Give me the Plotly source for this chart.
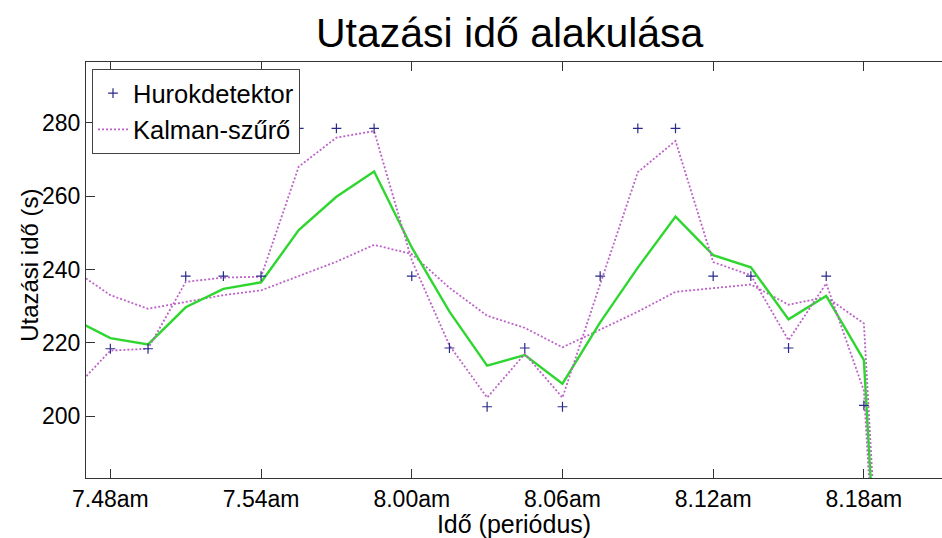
import plotly.graph_objects as go

# time in minutes after 7:00, one sample every 1.5 min
minutes = [46.5, 48, 49.5, 51, 52.5, 54, 55.5, 57, 58.5, 60, 61.5, 63, 64.5,
           66, 67.5, 69, 70.5, 72, 73.5, 75, 76.5, 78, 79.5]

hurokdetektor = [None, 218.4, 218.4, 238.2, 238.2, 238.2, 278.4, 278.4, 278.4,
                 238.2, 218.6, 202.6, 218.6, 202.6, 238.2, 278.4, 278.4, 238.2,
                 238.2, 218.6, 238.2, 203.0, 0.0]

kalman_a = [207.0, 217.9, 218.4, 236.6, 237.8, 238.0, 268.0, 275.9, 277.7,
            242.5, 219.3, 205.1, 217.0, 205.1, 236.0, 266.5, 275.0, 242.0,
            238.4, 220.7, 236.2, 207.0, 30.0]

kalman_b = [240.0, 233.0, 229.3, 231.1, 233.0, 234.3, 238.3, 242.1, 246.7,
            244.2, 235.0, 227.4, 224.1, 218.8, 223.6, 228.5, 233.9, 235.0,
            235.9, 230.4, 232.5, 225.3, 40.0]

becsles = [226.6, 221.3, 219.6, 229.7, 234.7, 236.5, 250.7, 259.8, 266.7,
           246.0, 228.5, 213.8, 216.7, 208.9, 225.6, 240.5, 254.4, 243.9,
           240.6, 226.4, 232.8, 215.3, 35.0]

tick_vals = [48, 54, 60, 66, 72, 78]
tick_text = ["7.48am", "7.54am", "8.00am", "8.06am", "8.12am", "8.18am"]
y_ticks = [200, 220, 240, 260, 280]

FONT = "Arial, Liberation Sans, Helvetica, sans-serif"
dot = "2px,2px"
PURPLE = "#bd62c8"

fig = go.Figure()
fig.add_trace(go.Scatter(
    x=minutes, y=kalman_b, mode="lines", showlegend=False,
    line=dict(color=PURPLE, width=1.8, dash=dot)))
fig.add_trace(go.Scatter(
    x=minutes, y=becsles, mode="lines", showlegend=False,
    line=dict(color="#2fd62f", width=2.4)))
fig.add_trace(go.Scatter(
    x=minutes, y=kalman_a, mode="lines", name="Kalman-szűrő", legendrank=2,
    line=dict(color=PURPLE, width=1.8, dash=dot)))
fig.add_trace(go.Scatter(
    x=minutes, y=hurokdetektor, mode="markers", name="Hurokdetektor", legendrank=1,
    marker=dict(symbol="cross-thin", size=7, line=dict(color="#2a2a8c", width=1.2))))

axis_common = dict(
    showline=True, linecolor="#333333", linewidth=1,
    ticks="inside", ticklen=9, tickcolor="#333333", tickwidth=1,
    showgrid=False, zeroline=False,
    tickfont=dict(family=FONT, size=23, color="black"),
)

fig.update_layout(
    width=942, height=538,
    margin=dict(l=86, r=0, t=62, b=60),
    paper_bgcolor="white", plot_bgcolor="white",
    font=dict(family=FONT, color="black"),
    title=dict(text="Utazási idő alakulása", x=0.495, xref="paper",
               y=1 - 33 / 538, yref="container", yanchor="middle",
               font=dict(family=FONT, size=41, color="black")),
    xaxis=dict(range=[47.03, 81.11], tickvals=tick_vals, ticktext=tick_text,
               mirror="ticks",
               title=dict(text="Idő (periódus)", standoff=2,
                          font=dict(family=FONT, size=25, color="black")),
               **axis_common),
    yaxis=dict(range=[183.2, 296.5], tickvals=y_ticks, **axis_common),
    legend=dict(x=0.007, y=0.983, xanchor="left", yanchor="top",
                bgcolor="white", bordercolor="#444444", borderwidth=1,
                font=dict(family=FONT, size=25.5, color="black"),
                tracegroupgap=0, itemwidth=30),
    annotations=[dict(text="Utazási idő (s)", textangle=-90,
                      xref="paper", yref="paper",
                      x=(30 - 86) / 856, y=0.51, xanchor="center", yanchor="middle",
                      showarrow=False,
                      font=dict(family=FONT, size=24, color="black"))],
)

fig.write_html("out.html")
